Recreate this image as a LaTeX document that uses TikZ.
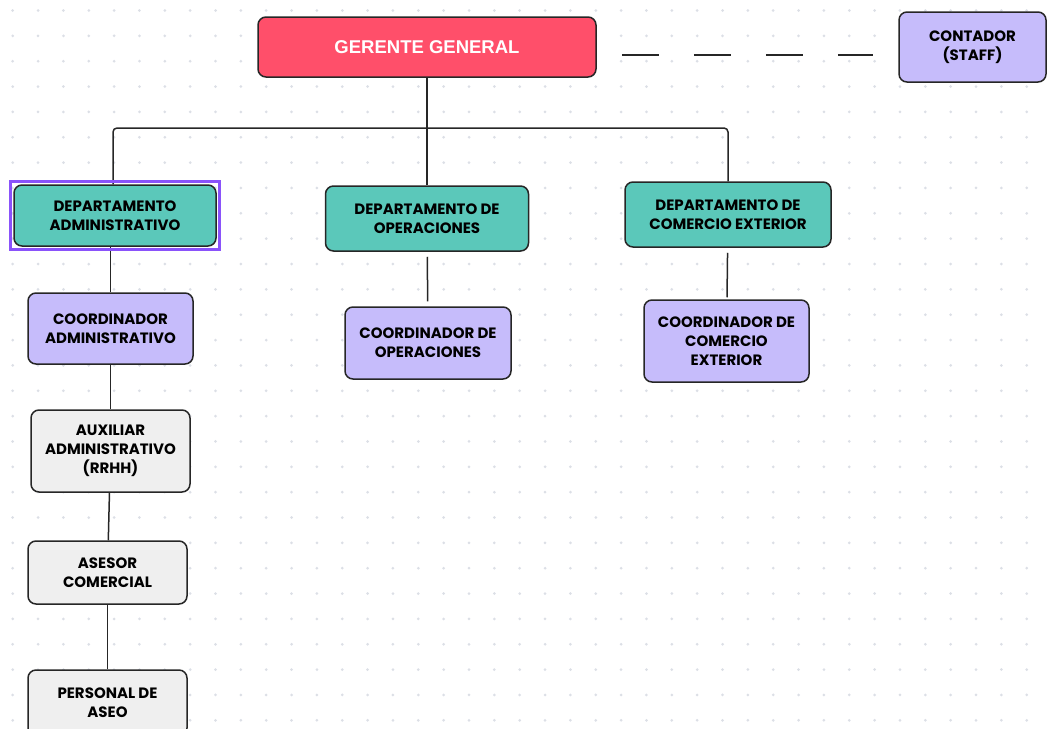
\documentclass[tikz,border=0pt]{standalone}
\usepackage{fontspec}
\setmainfont{Poppins}
\newfontfamily\ocheadfont{Liberation Sans}
\usetikzlibrary{positioning}
\definecolor{ocred}{RGB}{255,79,106}
\definecolor{octeal}{RGB}{91,200,186}
\definecolor{oclilac}{RGB}{198,188,251}
\definecolor{ocgray}{RGB}{239,239,239}
\definecolor{ocpurple}{RGB}{138,82,250}
\definecolor{ocline}{RGB}{38,38,38}
\definecolor{ocdot}{RGB}{220,223,230}
\tikzset{
  ocbox/.style={draw=ocline, line width=1.5pt, rounded corners=8pt, align=center, inner sep=2pt, font=\bfseries\fontsize{15}{19}\selectfont},
  ochead/.style={ocbox, fill=ocred, text=white, font=\ocheadfont\bfseries\fontsize{18.5}{22}\selectfont},
  ocdept/.style={ocbox, fill=octeal},
  occoord/.style={ocbox, fill=oclilac},
  ocstaff/.style={ocbox, fill=ocgray},
  oclink/.style={draw=ocline, line width=1.5pt},
  ocdash/.style={draw=ocline, line width=2pt, dash pattern=on 37pt off 35pt},
  ocsel/.style={draw=ocpurple, line width=3pt}
}

\begin{document}
\begin{tikzpicture}[x=1pt, y=-1pt]
  \useasboundingbox (0,0) rectangle (1048,728);
  % dotted canvas
  \foreach \i in {0,...,41}
    \foreach \j in {0,...,28}
      \fill[ocdot] (12.7+25.35*\i, 10.5+25.35*\j) circle (1.5pt);

  % top level
  \node[ochead, minimum width=338pt, minimum height=60pt] (gg) at (427,47) {GERENTE GENERAL};
  \node[occoord, minimum width=147pt, minimum height=70pt] (ctd) at (972.5,47) {CONTADOR\\(STAFF)};
  \draw[ocdash] ([xshift=25pt, yshift=-8pt]gg.east) -- ([xshift=-25pt, yshift=-8pt]ctd.west);

  % departments
  \node[ocdept, minimum width=202pt, minimum height=61pt] (dadm) at (115,215.5) {DEPARTAMENTO\\ADMINISTRATIVO};
  \node[ocdept, minimum width=203pt, minimum height=65pt] (dops) at (427,218.5) {DEPARTAMENTO DE\\OPERACIONES};
  \node[ocdept, minimum width=206pt, minimum height=65pt] (dcom) at (728,214.5) {DEPARTAMENTO DE\\COMERCIO EXTERIOR};

  % coordinators and staff
  \node[occoord, minimum width=165pt, minimum height=71pt] (cadm) at (110.5,328.5) {COORDINADOR\\ADMINISTRATIVO};
  \node[occoord, minimum width=166pt, minimum height=72pt] (cops) at (428,343) {COORDINADOR DE\\OPERACIONES};
  \node[occoord, minimum width=165pt, minimum height=82pt] (ccom) at (726.5,341) {COORDINADOR DE\\COMERCIO\\EXTERIOR};
  \node[ocstaff, minimum width=159pt, minimum height=82pt] (aux) at (110.5,451) {AUXILIAR\\ADMINISTRATIVO\\(RRHH)};
  \node[ocstaff, minimum width=159pt, minimum height=63pt] (ases) at (107.5,572.5) {ASESOR\\COMERCIAL};
  \node[ocstaff, minimum width=159pt, minimum height=66pt] (aseo) at (107.5,703) {PERSONAL DE\\ASEO};

  % tree
  \coordinate (bus) at (427,128);
  \draw[oclink] (gg) -- (gg.south |- bus);
  \draw[oclink, rounded corners=4pt] ([xshift=-2pt]dadm.north) |- (dcom.north |- bus) -- (dcom.north);
  \draw[oclink] (dops.north |- bus) -- (dops.north);
  \draw[oclink] (dadm.south -| cadm.north) -- (cadm.north);
  \draw[oclink, shorten <=5pt, shorten >=5pt] (dops) -- (cops);
  \draw[oclink, shorten <=5pt, shorten >=2pt] (dcom) -- (ccom);
  \draw[oclink] (cadm) -- (aux);
  \draw[oclink] (aux) -- (ases);
  \draw[oclink] (ases) -- (aseo);

  % selection frame
  \draw[ocsel] ([shift={(-3pt,3pt)}]dadm.north west) rectangle ([shift={(3pt,-3pt)}]dadm.south east);
\end{tikzpicture}
\end{document}
